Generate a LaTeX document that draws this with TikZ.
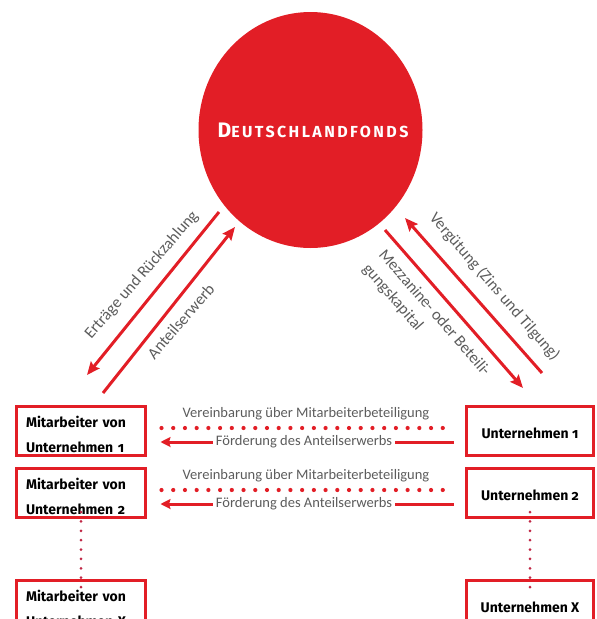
\documentclass[tikz,border=0pt]{standalone}
\usepackage{fontspec}
\setmainfont{Fira Sans}[Numbers=OldStyle]
\newfontfamily\lblfont{Carlito}
\usetikzlibrary{arrows.meta,shapes.geometric}
\definecolor{fred}{RGB}{226,30,38}
\definecolor{lgray}{RGB}{92,92,92}
\definecolor{dotred}{RGB}{192,40,70}
\begin{document}
\begin{tikzpicture}[x=1pt,y=-1pt,
  every node/.style={inner sep=0pt},
  mbox/.style={draw=fred, line width=3pt, fill=white, minimum width=129pt, minimum height=49pt,
    text width=110pt, inner xsep=9.5pt, align=left, font=\fontsize{14}{25}\selectfont\bfseries},
  ubox/.style={draw=fred, line width=3pt, fill=white, minimum width=127pt, minimum height=49pt,
    align=center, text height=15pt, text depth=0pt, font=\fontsize{14}{17}\selectfont\bfseries},
  harrow/.style={draw=fred, line width=3pt, -{Stealth[length=10pt,width=10pt,inset=1.5pt]}},
  darrow/.style={draw=fred, line width=3pt, -{Stealth[length=13pt,width=11pt,inset=2pt]}},
  hdots/.style={draw=fred, line width=4.2pt, line cap=round, dash pattern=on 0pt off 11.72pt},
  vdots/.style={draw=dotred, line width=3pt, line cap=round, dash pattern=on 0pt off 9.39pt},
  hlabel/.style={text=lgray, font=\lblfont\fontsize{14.5}{17}\selectfont},
  dlabel/.style={text=lgray, font=\lblfont\fontsize{16.3}{20}\selectfont},
]
\useasboundingbox (0,0) rectangle (597,619);
\clip (0,0) rectangle (597,619);

% central fund
\node[ellipse, fill=fred, minimum width=224pt, minimum height=236pt] (df) at (310.5,130) {};
\node[text=white, font=\bfseries] (dft) at (313,130)
  {\addfontfeature{LetterSpace=15}{\fontsize{21}{21}\selectfont D}{\fontsize{16}{16}\selectfont EUTSCHLANDFONDS}};

% boxes
\node[mbox] (m1) at (81,431) {\rule{0pt}{18pt}Mitarbeiter von\\Unternehmen 1};
\node[mbox] (m2) at (81,493) {\rule{0pt}{18pt}Mitarbeiter von\\Unternehmen 2};
\node[mbox] (mx) at (81,605) {\rule{0pt}{18pt}Mitarbeiter von\\Unternehmen X};
\node[ubox] (u1) at (530,431) {Unternehmen 1};
\node[ubox] (u2) at (530,493) {Unternehmen 2};
\node[ubox] (ux) at (530,605) {Unternehmen X};

% vertical dotted continuations
\draw[vdots] ([yshift=7pt]m2.south) -- ([yshift=-9pt]mx.north);
\draw[vdots] ([yshift=7pt]u2.south) -- ([yshift=-9pt]ux.north);

% horizontal relations
\node[hlabel] (v1) at (306,414) {Vereinbarung über Mitarbeiterbeteiligung};
\draw[hdots] ([shift={(14.5,-3)}]m1.east) -- ([shift={(-13.4,-3)}]u1.west);
\draw[harrow] ([shift={(-11.5,11)}]u1.west) -- node[pos=0.51, fill=white, inner xsep=2.5pt, inner ysep=1pt, hlabel] (f1) {Förderung des Anteilserwerbs} ([shift={(13.5,11)}]m1.east);

\node[hlabel] (v2) at (306,476) {Vereinbarung über Mitarbeiterbeteiligung};
\draw[hdots] ([shift={(14.5,-3)}]m2.east) -- ([shift={(-13.4,-3)}]u2.west);
\draw[harrow] ([shift={(-11.5,11)}]u2.west) -- node[pos=0.51, fill=white, inner xsep=2.5pt, inner ysep=1pt, hlabel] (f2) {Förderung des Anteilserwerbs} ([shift={(13.5,11)}]m2.east);

% diagonal flows
\coordinate (a1s) at (219,212);
\coordinate (a1e) at (87,375);
\coordinate (a2s) at (103,393);
\coordinate (a2e) at (235,227);
\coordinate (a3s) at (542,373);
\coordinate (a3e) at (405,218);
\coordinate (a4s) at (385,230);
\coordinate (a4e) at (523,388);
\draw[darrow] (a1s) -- (a1e);
\draw[darrow] (a2s) -- (a2e);
\draw[darrow] (a3s) -- (a3e);
\draw[darrow] (a4s) -- (a4e);

\node[dlabel, rotate=49, anchor=base] (l1) at (145,278) {Erträge und Rückzahlung};
\node[dlabel, rotate=49, anchor=base] (l2) at (185,325) {Anteilserwerb};
\node[dlabel, rotate=-49, anchor=base] (l3) at (491,290) {Vergütung (Zins und Tilgung)};
\node[dlabel, rotate=-49, anchor=base west] (l4a) at (378,255) {Mezzanine- oder Beteili-};
\node[dlabel, rotate=-49, anchor=base west] (l4b) at (362,269) {gungskapital};
\end{tikzpicture}
\end{document}
